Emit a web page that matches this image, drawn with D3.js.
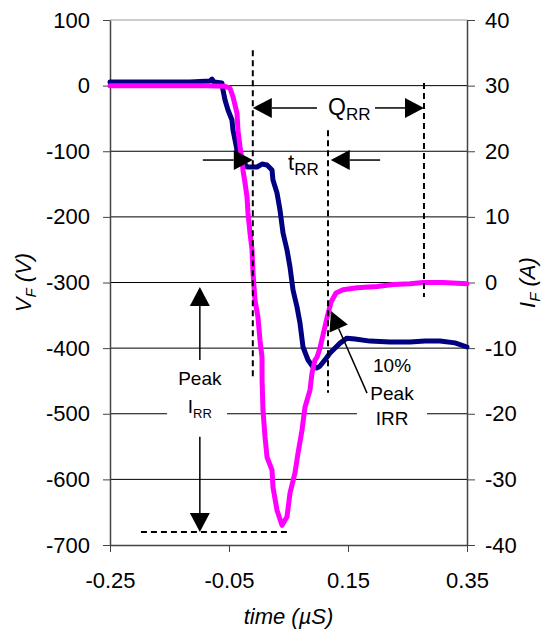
<!DOCTYPE html>
<html>
<head>
<meta charset="utf-8">
<script src="https://cdn.jsdelivr.net/npm/d3@7"></script>
<style>
  body { margin: 0; background: #fff; }
  svg { font-family: "Liberation Sans", Arial, sans-serif; }
  .axis path, .axis line { stroke: #444; }
  .axis text { font-size: 22px; fill: #000; }
</style>
</head>
<body>
<div id="chart"></div>
<script>
// forward voltage trace (left axis)
var vfTime = [-0.25,-0.166,-0.1155,-0.0819,-0.0786,-0.0752,-0.0618,-0.0601,-0.0567,-0.0517,-0.045,-0.0433,-0.0399,-0.0366,-0.0282,-0.0197,-0.0147,-0.0029,0.0055,0.0139,0.0223,0.0239,0.0307,0.0357,0.0408,0.0475,0.0525,0.0576,0.0643,0.0693,0.0744,0.0828,0.0912,0.0979,0.1029,0.1113,0.1198,0.1366,0.1483,0.1618,0.187,0.2206,0.2542,0.2794,0.3046,0.3298,0.35];
var vfVolts = [5.5,5.5,5.5,7,10,5.5,4,-6.7,-21.9,-37.2,-52.4,-67.7,-82.9,-98.1,-113.4,-124,-124,-124,-119.5,-121,-128.6,-143.9,-163.7,-189.6,-224.6,-250.5,-276.4,-311.5,-337.4,-361.8,-398.3,-418.1,-428.8,-430.3,-427.3,-418,-407.5,-392.4,-384.8,-386.1,-389.3,-390.8,-390.8,-389.3,-389.3,-392,-398.3];

// forward current trace (right axis)
var ifTime = [-0.25,-0.2,-0.15,-0.1,-0.0567,-0.0483,-0.0433,-0.0366,-0.0349,-0.0315,-0.0282,-0.0265,-0.0231,-0.0197,-0.0181,-0.0147,-0.0113,-0.0097,-0.0063,-0.0013,0.0021,0.0055,0.0056,0.0071,0.0105,0.0139,0.0223,0.0239,0.0307,0.0391,0.0475,0.0525,0.0609,0.066,0.0727,0.0777,0.0861,0.0895,0.0945,0.0979,0.1029,0.108,0.1147,0.1214,0.1298,0.1416,0.1651,0.1987,0.2256,0.2542,0.2761,0.3097,0.35];
var ifAmps = [30,30,30,30,29.9,29.6,28.3,25.8,23.2,20.7,18.7,17.1,15.2,13.0,10.6,7.5,5.0,1.5,-2.7,-5.3,-8.8,-11.4,-14.9,-19.4,-23.5,-26.6,-28.6,-31.2,-34.7,-37.0,-35.7,-32.1,-29.0,-26.0,-22.5,-19.0,-16.4,-13.8,-11.8,-11.4,-10.0,-8.0,-5.4,-3.0,-1.6,-1.1,-0.8,-0.6,-0.3,-0.2,0,0,-0.2];

var xTicks = [-0.25,-0.05,0.15,0.35];
var vTicks = [100,0,-100,-200,-300,-400,-500,-600,-700];
var iTicks = [40,30,20,10,0,-10,-20,-30,-40];

var margin = {top: 20, right: 85, bottom: 89, left: 110},
    width = 552 - margin.left - margin.right,
    height = 634 - margin.top - margin.bottom;

var svg = d3.select('#chart').append('svg')
  .attr('width', 552).attr('height', 634);

var g = svg.append('g')
  .attr('transform', 'translate(' + margin.left + ',' + margin.top + ')');

var x = d3.scaleLinear().domain([-0.25, 0.35]).range([0, width]);
var yL = d3.scaleLinear().domain([-700, 100]).range([height, 0]);
var yR = d3.scaleLinear().domain([-40, 40]).range([height, 0]);

// plain hyphen for negatives, like the original
var fmtInt = function(d) { return String(d); };
var fmtX = function(d) { return d.toFixed(2); };

// gridlines
g.append('g').selectAll('line')
  .data(vTicks.filter(function(d) { return d > -700; }))
  .enter().append('line')
  .attr('x1', 0).attr('x2', width)
  .attr('y1', function(d) { return yL(d); })
  .attr('y2', function(d) { return yL(d); })
  .attr('stroke', function(d) { return d == 100 ? '#999' : '#000'; })
  .attr('stroke-width', 1);

// axes
g.append('g').attr('class', 'axis')
  .call(d3.axisLeft(yL).tickValues(vTicks).tickSize(7).tickSizeOuter(0).tickPadding(13).tickFormat(fmtInt));

g.append('g').attr('class', 'axis')
  .attr('transform', 'translate(' + width + ',0)')
  .call(d3.axisRight(yR).tickValues(iTicks).tickSize(8).tickSizeOuter(0).tickPadding(10).tickFormat(fmtInt));

g.append('g').attr('class', 'axis')
  .attr('transform', 'translate(0,' + height + ')')
  .call(d3.axisBottom(x).tickValues(xTicks).tickSize(7).tickSizeOuter(0).tickPadding(20).tickFormat(fmtX));

g.selectAll('.axis .domain').attr('stroke-width', 1.5);

// white boxes behind the text labels (they break the gridline)
function box(t0, t1, v0, v1) {
  g.append('rect')
    .attr('x', x(t0)).attr('y', yL(v0))
    .attr('width', x(t1) - x(t0)).attr('height', yL(v1) - yL(v0))
    .attr('fill', '#fff');
}
box(-0.154, -0.0533, -418, -535);
box(0.165, 0.2828, -410, -528);

// traces
var vfData = vfTime.map(function(t, i) { return [t, vfVolts[i]]; });
var ifData = ifTime.map(function(t, i) { return [t, ifAmps[i]]; });

g.append('path').datum(vfData)
  .attr('fill', 'none').attr('stroke', '#000080').attr('stroke-width', 5)
  .attr('stroke-linejoin', 'round').attr('stroke-linecap', 'round')
  .attr('d', d3.line().x(function(d) { return x(d[0]); }).y(function(d) { return yL(d[1]); }));

g.append('path').datum(ifData)
  .attr('fill', 'none').attr('stroke', '#FF00FF').attr('stroke-width', 5)
  .attr('stroke-linejoin', 'round').attr('stroke-linecap', 'round')
  .attr('d', d3.line().x(function(d) { return x(d[0]); }).y(function(d) { return yR(d[1]); }));

// annotations
function dashed(t0, v0, t1, v1) {
  g.append('line')
    .attr('x1', x(t0)).attr('y1', yL(v0)).attr('x2', x(t1)).attr('y2', yL(v1))
    .attr('stroke', '#000').attr('stroke-width', 2).attr('stroke-dasharray', '6,4');
}
dashed(-0.01, 54, -0.01, -449);
dashed(0.1164, -68, 0.1164, -468);
dashed(0.2777, 4, 0.2777, -322);
dashed(-0.198, -680, 0.0525, -680);

function arrow(t0, v0, t1, v1) {
  var x0 = x(t0), y0 = yL(v0), x1 = x(t1), y1 = yL(v1);
  var a = Math.atan2(y1 - y0, x1 - x0), len = 19, hw = 10;
  var bx = x1 - len * Math.cos(a), by = y1 - len * Math.sin(a);
  g.append('line')
    .attr('x1', x0).attr('y1', y0).attr('x2', bx).attr('y2', by)
    .attr('stroke', '#000').attr('stroke-width', 1.5);
  var p = [[x1, y1],
           [bx + hw * Math.sin(a), by - hw * Math.cos(a)],
           [bx - hw * Math.sin(a), by + hw * Math.cos(a)]];
  g.append('path').attr('d', 'M' + p.join('L') + 'Z').attr('fill', '#000');
}
// Q_RR
arrow(0.0979, -34, -0.01, -34);
arrow(0.1954, -34, 0.2777, -34);
// t_RR
arrow(-0.094, -113.4, -0.01, -113.4);
arrow(0.204, -113.4, 0.121, -113.4);
// peak I_RR
arrow(-0.099, -418, -0.099, -307);
arrow(-0.099, -535, -0.099, -680);
// 10% peak
arrow(0.182, -468.5, 0.1214, -343.5);

function sublabel(t, v, main, sub, size, subSize, anchor) {
  var txt = g.append('text')
    .attr('x', x(t)).attr('y', yL(v))
    .attr('text-anchor', anchor || 'start')
    .style('font-size', size + 'px');
  txt.append('tspan').text(main);
  txt.append('tspan').attr('dy', 5).style('font-size', subSize + 'px').text(sub);
}
sublabel(0.1164, -45, 'Q', 'RR', 23, 17);
sublabel(0.0492, -128.6, 't', 'RR', 22, 17);
g.append('text').attr('x', x(-0.099)).attr('y', yL(-456))
  .attr('text-anchor', 'middle').style('font-size', '19px').text('Peak');
sublabel(-0.099, -499, 'I', 'RR', 19, 13, 'middle');

[['10%', -436.6], ['Peak', -479], ['IRR', -517]].forEach(function(d) {
  g.append('text').attr('x', x(0.224)).attr('y', yL(d[1]))
    .attr('text-anchor', 'middle').style('font-size', '19px').text(d[0]);
});

// axis titles
var lt = svg.append('text')
  .attr('transform', 'translate(31,' + (margin.top + height / 2) + ') rotate(-90)')
  .attr('text-anchor', 'middle').style('font-size', '22px').style('font-style', 'italic');
lt.append('tspan').text('V');
lt.append('tspan').attr('dy', 5).style('font-size', '15px').text('F');
lt.append('tspan').attr('dy', -5).text(' (V)');

var rt = svg.append('text')
  .attr('transform', 'translate(535,' + (margin.top + height / 2) + ') rotate(-90)')
  .attr('text-anchor', 'middle').style('font-size', '22px').style('font-style', 'italic');
rt.append('tspan').text('I');
rt.append('tspan').attr('dy', 5).style('font-size', '15px').text('F');
rt.append('tspan').attr('dy', -5).text(' (A)');

svg.append('text')
  .attr('x', margin.left + width / 2).attr('y', 624)
  .attr('text-anchor', 'middle').style('font-size', '22px').style('font-style', 'italic')
  .text('time (\u00b5S)');
</script>
</body>
</html>
